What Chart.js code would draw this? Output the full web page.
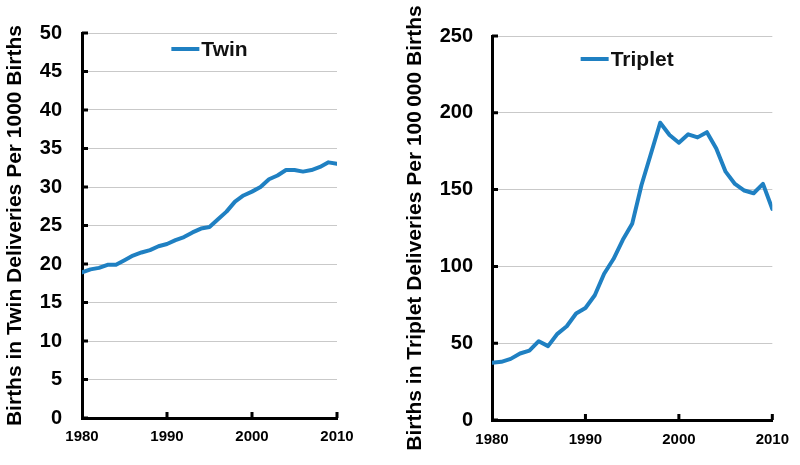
<!DOCTYPE html>
<html>
<head>
<meta charset="utf-8">
<script src="https://cdn.jsdelivr.net/npm/chart.js@4.4.1/dist/chart.umd.min.js"></script>
<style>
  html, body { margin: 0; padding: 0; background: #ffffff; }
  #wrap { position: relative; width: 800px; height: 465px; overflow: hidden; }
  .box { position: absolute; top: 0; width: 400px; height: 465px; }
</style>
</head>
<body>
<div id="wrap">
  <div class="box" style="left:0"><canvas id="twin"></canvas></div>
  <div class="box" style="left:400px"><canvas id="triplet"></canvas></div>
</div>
<script>
const years = [1980,1981,1982,1983,1984,1985,1986,1987,1988,1989,
               1990,1991,1992,1993,1994,1995,1996,1997,1998,1999,
               2000,2001,2002,2003,2004,2005,2006,2007,2008,2009,2010];
const twinRates = [18.9,19.3,19.5,19.9,19.9,20.5,21.1,21.5,21.8,22.3,
                   22.6,23.1,23.5,24.1,24.6,24.8,25.8,26.8,28.1,28.9,
                   29.4,30.0,31.0,31.5,32.2,32.2,32.0,32.2,32.6,33.2,33.0];
const tripletRates = [37.2,37.9,39.8,43.3,45.2,51.3,48.1,56.1,61.0,69.3,
                      72.9,81.2,95.2,104.8,117.3,127.7,153.0,173.2,193.5,185.5,
                      180.5,186.0,184.0,187.4,176.8,161.7,153.7,149.4,147.6,153.7,137.4];
const twinLabel = 'Twin';
const tripletLabel = 'Triplet';
const twinTitle = 'Births in Twin Deliveries Per 1000 Births';
const tripletTitle = 'Births in Triplet Deliveries Per 100\u2009000 Births';
const xTickStep = 10;

const FONT = "'Liberation Sans', Arial, sans-serif";
const LINE_COLOR = '#1f80c2';

const innerTicks = {
  id: 'innerTicks',
  afterDatasetsDraw(chart) {
    const ctx = chart.ctx, a = chart.chartArea;
    const ys = chart.scales.y, xs = chart.scales.x;
    ctx.save();
    ctx.strokeStyle = '#000';
    ctx.lineWidth = 3;
    ctx.beginPath();
    ys.ticks.forEach((t, i) => {
      const y = ys.getPixelForTick(i);
      ctx.moveTo(a.left, y); ctx.lineTo(a.left + 6, y);
    });
    xs.ticks.forEach((t, i) => {
      const x = xs.getPixelForTick(i);
      if (Math.abs(x - a.left) < 2) return;
      ctx.moveTo(x, a.bottom); ctx.lineTo(x, a.bottom - 6);
    });
    ctx.stroke();
    ctx.restore();
  }
};

// legend drawn inside the plot area, centred near the top
const innerLegend = {
  id: 'innerLegend',
  afterDraw(chart, args, opts) {
    const ctx = chart.ctx, a = chart.chartArea;
    const ds = chart.data.datasets[0];
    ctx.save();
    ctx.font = 'bold 21px ' + FONT;
    const tw = ctx.measureText(ds.label).width;
    const lineW = 28, gap = 2;
    const total = lineW + gap + tw;
    const cx = (a.left + a.right) / 2 + opts.dx;
    const x0 = cx - total / 2;
    const y = a.top + opts.dy;
    ctx.strokeStyle = ds.borderColor;
    ctx.lineWidth = 4;
    ctx.lineCap = 'butt';
    ctx.beginPath();
    ctx.moveTo(x0, y); ctx.lineTo(x0 + lineW, y);
    ctx.stroke();
    ctx.fillStyle = '#111';
    ctx.textBaseline = 'middle';
    ctx.textAlign = 'left';
    ctx.fillText(ds.label, x0 + lineW + gap, y + 1);
    ctx.restore();
  }
};

function makeChart(id, label, data, title, yMax, yStep, geom) {
  return new Chart(document.getElementById(id), {
    type: 'line',
    data: {
      datasets: [{
        label: label,
        data: years.map((yr, i) => ({ x: yr, y: data[i] })),
        borderColor: LINE_COLOR,
        backgroundColor: LINE_COLOR,
        borderWidth: 4,
        pointRadius: 0,
        tension: 0,
        borderJoinStyle: 'round',
        borderCapStyle: 'round'
      }]
    },
    options: {
      responsive: true,
      maintainAspectRatio: false,
      animation: false,
      layout: { padding: { top: geom.top, right: 400 - geom.right, bottom: 0, left: 0 } },
      plugins: {
        tooltip: { enabled: false },
        legend: { display: false },
        innerLegend: { dx: geom.legDx, dy: geom.legDy }
      },
      scales: {
        x: {
          type: 'linear',
          min: years[0],
          max: years[years.length - 1],
          afterFit(scale) { scale.height = 465 - geom.bottom; },
          grid: { display: false, drawTicks: false },
          border: { display: true, color: '#000', width: 3 },
          ticks: {
            stepSize: xTickStep,
            padding: geom.xPad,
            color: '#000',
            maxRotation: 0,
            font: { family: FONT, size: 15, weight: 'bold' },
            callback: v => String(v)
          }
        },
        y: {
          min: 0,
          max: yMax,
          afterFit(scale) { scale.width = geom.left; },
          grid: { color: '#c9c9c9', lineWidth: 1, drawTicks: false },
          border: { display: true, color: '#000', width: 3 },
          ticks: {
            stepSize: yStep,
            padding: geom.yPad,
            color: '#000',
            font: { family: FONT, size: 20, weight: 'bold' }
          },
          title: {
            display: true,
            text: title,
            color: '#000',
            padding: { top: 3, bottom: 0 },
            font: { family: FONT, size: 21, weight: 'bold' }
          }
        }
      }
    },
    plugins: [innerTicks, innerLegend]
  });
}

makeChart('twin', twinLabel, twinRates, twinTitle, 50, 5,
  { left: 82, right: 337, top: 33, bottom: 418, xPad: 10, yPad: 20, legDx: 0, legDy: 16 });
makeChart('triplet', tripletLabel, tripletRates, tripletTitle, 250, 50,
  { left: 92, right: 375, top: 36, bottom: 420, xPad: 11, yPad: 19, legDx: -5, legDy: 23 });
</script>
</body>
</html>
